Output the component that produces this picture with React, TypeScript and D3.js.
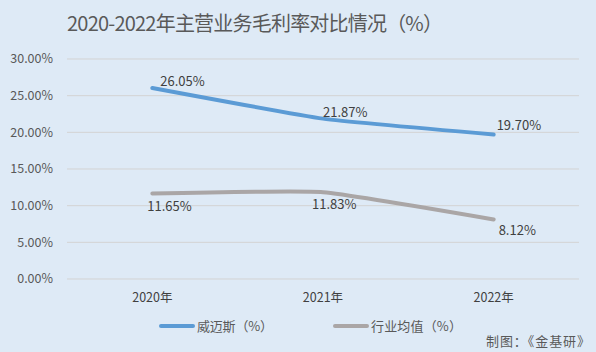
import React from "react";
import * as d3 from "d3";

const categories = ["2020年", "2021年", "2022年"];
const seriesNames = ["威迈斯（%）", "行业均值（%）"];
const weimaisi = [26.05, 21.87, 19.7];
const industry = [11.65, 11.83, 8.12];
const yTicks = [0, 5, 10, 15, 20, 25, 30];
const title = "2020-2022年主营业务毛利率对比情况（%）";
const source = "制图：《金基研》";

const W = 596, H = 352;
const left = 67, right = 579, top = 59, bottom = 279;
const FONT = "'Microsoft YaHei', 'Noto Sans CJK SC', 'Noto Sans', sans-serif";

export default function App() {
  const x = d3.scaleBand().domain(categories).range([left, right]);
  const y = d3.scaleLinear().domain([0, 30]).range([bottom, top]);
  const cx = (c: string) => (x(c) as number) + x.bandwidth() / 2;
  const line = d3
    .line<number>()
    .x((_, i) => cx(categories[i]))
    .y((d) => y(d))
    .curve(d3.curveCardinal.tension(0.6));

  const series = [
    { name: seriesNames[0], values: weimaisi, color: "#5B9BD5", offs: [[8, -2], [0, -2], [3, -5]], lx: 161, tl: 76 },
    { name: seriesNames[1], values: industry, color: "#AAA6A6", offs: [[-5, 17], [-11, 17], [5, 16]], lx: 335, tl: 91 },
  ];

  return (
    <svg width={W} height={H} style={{ position: "absolute", left: 0, top: 0, display: "block" }}>
      <rect x={0} y={0} width={W} height={H} fill="#DEEAF6" />
      <text x={67} y={31} fontSize={20} fill="#595959" fontFamily={FONT} textLength={376} lengthAdjust="spacing">
        {title}
      </text>
      {yTicks.map((t) => (
        <g key={t}>
          <line x1={left} x2={right} y1={y(t)} y2={y(t)} stroke="#D3D3D3" strokeWidth={1} />
          <text x={53} y={y(t)} dy="0.35em" textAnchor="end" fontSize={12.5} fill="#595959" fontFamily={FONT}>
            {t.toFixed(2)}%
          </text>
        </g>
      ))}
      {categories.map((c) => (
        <text key={c} x={cx(c)} y={302} textAnchor="middle" fontSize={12.5} fill="#404040" fontFamily={FONT}>
          {c}
        </text>
      ))}
      {series.map((s) => (
        <g key={s.name}>
          <path d={line(s.values) || ""} fill="none" stroke={s.color} strokeWidth={4} strokeLinecap="round" />
          {s.values.map((v, i) => (
            <text
              key={i}
              x={cx(categories[i]) + s.offs[i][0]}
              y={y(v) + s.offs[i][1]}
              fontSize={13}
              fill="#404040"
              fontFamily={FONT}
            >
              {v.toFixed(2)}%
            </text>
          ))}
        </g>
      ))}
      {series.map((s, i) => (
        <g key={"lg" + i}>
          <line x1={s.lx} x2={s.lx + 32} y1={326} y2={326} stroke={s.color} strokeWidth={4} strokeLinecap="round" />
          <text x={s.lx + 36} y={326} dy="0.35em" fontSize={13} fill="#595959" fontFamily={FONT} textLength={s.tl} lengthAdjust="spacing">
            {s.name}
          </text>
        </g>
      ))}
      <text x={486} y={346} fontSize={13} fill="#595959" fontFamily={FONT} textLength={104} lengthAdjust="spacing">
        {source}
      </text>
    </svg>
  );
}
